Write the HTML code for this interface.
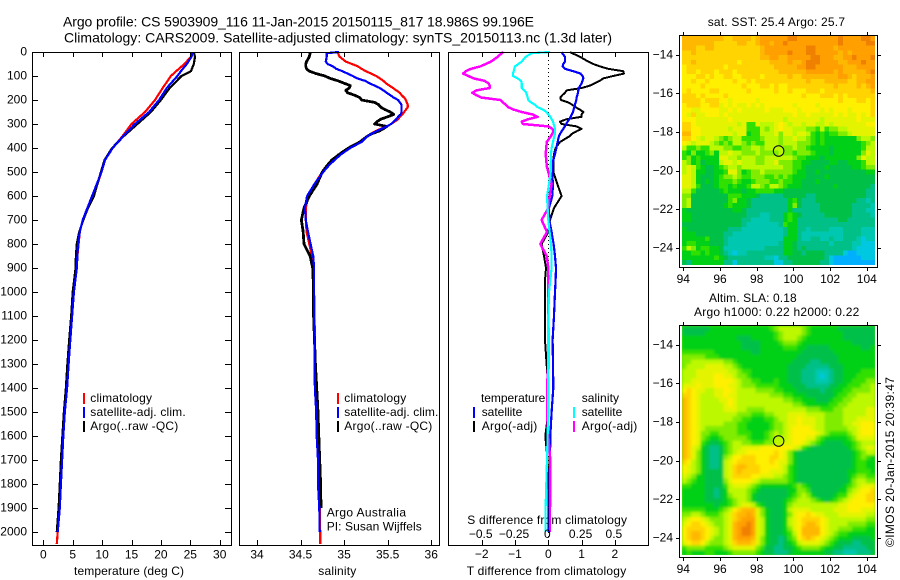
<!DOCTYPE html>
<html>
<head>
<meta charset="utf-8">
<title>Argo profile chart</title>
<style>
html,body{margin:0;padding:0;background:#fff;}
svg{display:block;}
text{font-family:"Liberation Sans",sans-serif;font-size:12px;fill:#000;}
.title{font-size:14px;}
</style>
</head>
<body>
<svg id="chart" xmlns="http://www.w3.org/2000/svg" width="900" height="580" viewBox="0 0 900 580">
<defs>
<filter id="sla-smooth" x="-5%" y="-5%" width="110%" height="110%"><feGaussianBlur stdDeviation="1.4"/></filter>
<clipPath id="sla-clip"><rect x="682" y="326" width="193" height="229"/></clipPath>
</defs>
<text class="title" x="63" y="26.5" textLength="471" lengthAdjust="spacing">Argo profile: CS 5903909_116 11-Jan-2015 20150115_817 18.986S 99.196E</text>
<text class="title" x="64" y="42.5" textLength="548" lengthAdjust="spacing">Climatology: CARS2009. Satellite-adjusted climatology: synTS_20150113.nc (1.3d later)</text>
<text x="74" y="575" textLength="110" lengthAdjust="spacing">temperature (deg C)</text>
<text x="318.3" y="575" textLength="38" lengthAdjust="spacing">salinity</text>
<text x="466.7" y="575" textLength="159.5" lengthAdjust="spacing">T difference from climatology</text>
<text x="467.3" y="524" textLength="159.7" lengthAdjust="spacing">S difference from climatology</text>
<rect x="83" y="393" width="2" height="11" fill="#ff0000"/>
<rect x="83" y="407" width="2" height="11" fill="#0000ff"/>
<rect x="83" y="421" width="2" height="11" fill="#000"/>
<text x="90.3" y="402" textLength="61.7" lengthAdjust="spacing">climatology</text>
<text x="90.3" y="416" textLength="95.4" lengthAdjust="spacing">satellite-adj. clim.</text>
<text x="90.3" y="430" textLength="88" lengthAdjust="spacing">Argo(..raw -QC)</text>
<rect x="337" y="393" width="2" height="11" fill="#ff0000"/>
<rect x="337" y="407" width="2" height="11" fill="#0000ff"/>
<rect x="337" y="421" width="2" height="11" fill="#000"/>
<text x="344.3" y="402" textLength="62" lengthAdjust="spacing">climatology</text>
<text x="344.3" y="416" textLength="94" lengthAdjust="spacing">satellite-adj. clim.</text>
<text x="344.3" y="430" textLength="88" lengthAdjust="spacing">Argo(..raw -QC)</text>
<text x="326.7" y="516.7" textLength="79.3" lengthAdjust="spacing">Argo Australia</text>
<text x="326.7" y="530.7" textLength="95" lengthAdjust="spacing">PI: Susan Wijffels</text>
<text x="481" y="402" textLength="64.3" lengthAdjust="spacing">temperature</text>
<text x="581.7" y="402" textLength="37.3" lengthAdjust="spacing">salinity</text>
<rect x="473" y="407" width="2" height="11" fill="#0000ff"/>
<rect x="473" y="421" width="2" height="11" fill="#000"/>
<rect x="573" y="407" width="2" height="11" fill="#00ffff"/>
<rect x="573" y="421" width="2" height="11" fill="#ff00ff"/>
<text x="481.7" y="416" textLength="40.6" lengthAdjust="spacing">satellite</text>
<text x="481.7" y="430" textLength="55.6" lengthAdjust="spacing">Argo(-adj)</text>
<text x="581.7" y="416" textLength="40.6" lengthAdjust="spacing">satellite</text>
<text x="581.7" y="430" textLength="55.6" lengthAdjust="spacing">Argo(-adj)</text>
<text x="707.7" y="26" textLength="137.3" lengthAdjust="spacing">sat. SST: 25.4 Argo: 25.7</text>
<text x="709" y="302" textLength="87.7" lengthAdjust="spacing">Altim. SLA: 0.18</text>
<text x="694" y="316" textLength="165.3" lengthAdjust="spacing">Argo h1000: 0.22 h2000: 0.22</text>
<text transform="translate(894,547) rotate(-90)" textLength="170" lengthAdjust="spacing">©IMOS 20-Jan-2015 20:39:47</text>
</svg>
<script>
// ---- profile data ----
const depthT = [0,20,50,80,100,150,200,250,300,350,400,450,500,550,600,650,700,750,800,850,900,1000,1100,1200,1300,1400,1500,1600,1700,1800,1900,2000,2050];
const tempClim = [25.1,25.1,24.0,22.6,21.7,20.3,19.0,17.3,15.0,13.5,11.8,10.5,9.9,9.2,8.3,7.5,6.7,6.2,6.0,5.8,5.7,5.2,4.9,4.5,4.2,4.0,3.6,3.35,3.1,2.9,2.7,2.45,2.3];
const tempArgo = [25.6,25.8,25.6,25.1,23.5,21.5,20.0,18.3,16.0,13.7,11.7,10.4,9.8,9.2,8.6,7.6,6.8,6.1,5.7,5.55,5.5,5.0,4.75,4.4,4.1,3.85,3.5,3.25,3.0,2.8,2.6,2.3,null];
const tempSat = [25.4,25.2,24.4,23.4,22.8,21.0,19.7,18.0,15.6,13.6,11.8,10.5,9.9,9.1,8.3,7.5,6.7,6.2,5.9,5.8,5.7,5.2,4.9,4.6,4.3,4.05,3.65,3.4,3.2,3.0,2.8,2.45,null];
const depthS = [0,5,20,40,50,60,70,
80,90,100,110,120,130,140,150,
160,170,180,190,200,210,220,230,240,250,
260,270,280,290,300,310,320,330,340,350,
375,400,425,450,475,500,550,
600,650,700,750,800,850,900,950,1000,
1100,1200,1300,1400,1500,1600,1700,1800,1900,2000,2050];
const salClim = [34.91,34.93,34.95,35.02,35.09,35.16,35.20,
35.25,35.31,35.37,35.41,35.45,35.48,35.52,35.56,
35.60,35.64,35.66,35.69,35.71,35.72,35.73,35.73,35.71,35.69,
35.67,35.64,35.62,35.58,35.54,35.49,35.42,35.36,35.31,35.27,
35.18,35.07,34.97,34.87,34.80,34.75,34.66,
34.59,34.56,34.56,34.57,34.60,34.63,34.645,34.65,34.655,
34.66,34.665,34.67,34.67,34.685,34.70,34.715,34.72,34.72,34.726,34.726];
const salArgo = [34.61,34.61,34.60,34.57,34.56,34.56,34.57,
34.60,34.68,34.78,34.84,34.93,35.00,35.07,35.06,
35.02,35.04,35.12,35.18,35.20,35.35,35.40,35.42,35.47,35.53,
35.57,35.50,35.42,35.38,35.35,35.49,35.45,35.40,35.32,35.27,
35.18,35.05,34.95,34.86,34.80,34.75,34.69,
34.60,34.54,34.51,34.53,34.54,34.61,34.64,34.645,34.645,
34.65,34.66,34.67,34.685,34.70,34.71,34.72,34.73,34.735,null,null];
const salSat = [34.94,34.80,34.80,34.79,34.81,34.87,34.91,
34.98,35.04,35.10,35.15,35.24,35.29,35.35,35.41,
35.45,35.49,35.53,35.57,35.62,35.64,35.66,35.66,35.66,35.66,
35.65,35.62,35.60,35.57,35.54,35.49,35.43,35.37,35.32,35.27,
35.20,35.07,34.97,34.89,34.82,34.76,34.66,
34.575,34.55,34.56,34.585,34.615,34.645,34.655,34.655,34.655,
34.655,34.66,34.66,34.665,34.68,34.685,34.70,34.70,34.715,34.72,null];
const tDiffArgo = [0.65,0.72,0.95,1.2,1.35,1.55,1.8,
2.25,2.27,1.95,1.65,1.55,1.4,1.25,1.0,
0.55,0.5,0.42,0.36,0.38,0.6,0.72,0.82,0.95,1.05,
1.0,1.0,0.55,0.35,0.4,0.85,1.0,0.85,0.72,0.65,
0.35,0.22,0.17,0.15,0.15,0.15,0.27,
0.40,0.17,0.05,0,-0.2,-0.13,-0.07,-0.1,-0.1,
-0.1,-0.1,-0.05,0,0,-0.09,-0.02,0,0,0,null];
const tDiffSat = [0.40,0.42,0.50,0.50,0.45,0.43,0.50,
0.75,0.97,1.03,1.05,1.03,1.0,0.96,0.92,
0.90,0.89,0.87,0.85,0.84,0.82,0.80,0.78,0.76,0.74,
0.71,0.67,0.63,0.58,0.54,0.50,0.45,0.40,0.36,0.32,
0.28,0.24,0.2,0.15,0.13,0.11,0.14,
0.12,0.02,0.03,0.1,0.16,0.2,0.23,0.22,0.2,
0.17,0.13,0.14,0.15,0.1,0.06,0.05,0.04,0.04,0.03,null];
const sDiffArgo = [-0.34,-0.35,-0.38,-0.43,-0.47,-0.51,-0.58,
-0.62,-0.64,-0.60,-0.56,-0.48,-0.45,-0.44,-0.44,
-0.54,-0.57,-0.54,-0.50,-0.36,-0.34,-0.32,-0.30,-0.26,-0.20,
-0.12,-0.08,-0.15,-0.20,-0.19,0.0,0.03,0.04,0.03,0.02,
-0.012,-0.015,-0.02,-0.015,-0.012,0.0,0.025,
0.01,0.0,-0.05,-0.01,-0.06,-0.012,0.0,0.0,0.0,
0.0,0.0,0.0,-0.01,-0.01,0.0,0.015,0.015,0.013,0.013,null];
const sDiffSat = [0.013,-0.125,-0.17,-0.20,-0.225,-0.25,-0.255,
-0.26,-0.265,-0.265,-0.23,-0.205,-0.20,-0.20,-0.20,
-0.18,-0.165,-0.16,-0.155,-0.15,-0.13,-0.10,-0.08,-0.04,-0.015,
0.0,0.015,0.025,0.035,0.04,0.045,0.05,0.05,0.05,0.045,
0.035,0.025,0.02,0.02,0.018,0.018,0.005,
-0.01,-0.005,0.0,0.01,0.02,0.025,0.025,0.015,0.005,
0.0,-0.002,-0.002,0.0,0.0,-0.005,-0.01,-0.015,-0.02,-0.02,null];
// ---- tick data ----
const depthTicks = [0,100,200,300,400,500,600,700,800,900,1000,1100,1200,1300,1400,1500,1600,1700,1800,1900,2000];
const tempTicks = [0,5,10,15,20,25,30];
const salTicks = [34,34.5,35,35.5,36];
const tDiffTicks = [-2,-1,0,1,2];
const tDiffLabels = ["−2","−1","0","1","2"];
const sDiffTicks = [-0.5,-0.25,0,0.25,0.5];
const sDiffLabels = ["−0.5","−0.25","0","0.25","0.5"];
const lonTicks = [94,96,98,100,102,104];
const latTicks = [-14,-16,-18,-20,-22,-24];
const latLabels = ["−14","−16","−18","−20","−22","−24"];
const floatLon = 99.196;
const floatLat = -18.986;
// ---- map data: colour level per 0.25° cell (north to south), hex digit 0..e; 6 groups of 7 ----
const sstRows = [
"ccccccc ccbbccc cbcdddd ddeeddd dddddde ddddeed",
"ccccccc bbbbbcc bbcddcd deddddd dddddde dddddee",
"cccbbcc bbbbbbb bbbcddd dddddde eddddcd ddddddd",
"bbcbbbb bbbbbbb bbbcddd ddeddde edddddc dcddddd",
"bbbbbbb bbbbbbb bbbccdd ccddddd eedddcc ddeddde",
"bbcbbbb bbbbbab bbbbbcc ccdccde eeddddc cdddedd",
"abbbbbb bbabbbb bbbbbbc ccccdde edddddd cccdddd",
"abbabbb abbbabb bbbbbbb ccccccd dddddcd cccccde",
"aaabbab aabbaab bbbabbb bbcbbcc ccccccd dcbcccd",
"aabaaba aaaabaa babbbbb bbbbbbc bbbcccc cbbccdd",
"aaaabaa aaaaaab aaabbab aabbbbb bbbbbcb bbbcbcd",
"abaaaab baaaaaa baaaaab aabaaab bbabbbb bbbbbbc",
"bbbabaa aabaaaa aaaaaaa aaaaaba aabbbab abbbbbb",
"bbbbabb baa9aaa aa9aaaa aaaaaaa aaaaaab aaabbab",
"abbbaab b9a9a99 a9a9aaa aaa9aaa a9aaaaa aaaaaab",
"aa99aaa a99a9a9 9999a99 9aaa9aa aa9a9aa a9aaaab",
"a9b99aa a9a9999 9999999 999a99a 99999a9 a99a9ab",
"aaa9999 999a999 9999999 9899999 9989999 999a999",
"bba9999 9999989 6698889 a989989 9889899 99999aa",
"bbaa999 9998999 6668789 a998887 7686778 8999999",
"ccaa999 9999899 5668889 7998998 6565667 7899999",
"bba9899 8767886 6667888 7889887 6565555 5557887",
"a989998 7676887 6766888 7888777 6565555 5555678",
"8667668 8877667 7887888 8778776 5555455 5555688",
"6575567 5889887 7787777 8776777 6555455 5555798",
"6756555 5998878 8877888 8887665 5545555 5557988",
"8756455 5899898 8877889 7776655 4444554 4555688",
"8986544 5678878 8888888 8776654 4445444 4455677",
"8985544 5569975 6778777 7776554 4544444 4444455",
"9985444 5677876 6777667 6765554 4445444 4444444",
"9985454 5666765 5677766 7665544 4544444 4444444",
"9986444 5665655 6887688 7655544 4444454 4444443",
"8864444 4565554 5566665 5444444 4444444 4444433",
"7744444 4446665 5543333 3444443 3444444 4444433",
"7844444 4446755 4333333 3356433 3444444 4443323",
"7844444 4456555 4333333 3357433 3344444 4433332",
"5444444 4444554 3333333 3353333 3344444 4433322",
"5544444 4444444 3332233 3565433 3334444 4433332",
"5544444 4444443 3222233 3565333 3333334 4333333",
"4444444 4444443 2222222 3655333 3333333 3333333",
"5444444 4443332 2222222 2355332 3333222 3333222",
"5554444 4433222 2222222 2355322 2222222 3333222",
"5555564 4432222 2222222 2555322 3322322 3332122",
"5665554 4432222 2222222 3554333 3333233 3322111",
"6875665 5422222 2222333 3554343 3333333 3321111",
"5566565 5432122 3333333 3554434 4443333 1001111",
"5555555 6543333 3333221 3344444 4443100 0000111",
"4355555 5533133 3333331 1334444 4433100 0000000"
];
const slaRows = [
"4444445 5555555 5555567 8888876 5555554 4444444",
"4444455 5555555 5555556 7888876 5555555 4444444",
"5555555 5555544 4555556 7888765 5555555 4444444",
"5555555 5555554 4445555 6777655 5555555 5544444",
"5555555 5555554 4445555 5666554 4444555 5555445",
"6666666 5555555 5445555 5555544 4444455 5555555",
"7777766 6555555 5555555 5555444 4444445 5555555",
"7788888 8877655 5555555 5554444 3344445 5555555",
"7888899 9988765 5555555 5544443 3333444 5555555",
"8889999 9998876 6555555 5544433 3222344 5555666",
"8889999 aa99877 6555555 5544433 3212344 5556666",
"8899999 aaaa987 7665556 5544433 3222344 5566677",
"999a999 aaa9987 7766666 5554443 3333445 5666778",
"aba9988 99aa988 8877776 6555444 4434455 6677778",
"bba9888 99a9988 8888877 7665554 4444456 6778888",
"cba9888 899a988 8888888 8776655 5444566 7788888",
"cba9888 889a988 8888888 8887765 5555667 7888888",
"cba9888 8899988 7777888 8888887 7766677 8888899",
"cba9888 8888877 7666778 8899998 8887777 8888899",
"cba9888 8888776 6555667 8899a99 9887777 8889999",
"cba9888 8877766 5555567 7899a99 9887777 8899aaa",
"cba9877 7777766 5555567 789aaaa 9887777 7889aaa",
"cba9776 6777766 6555678 789aaaa a987666 6789aaa",
"cba9765 5677777 6555678 889aaa9 9765555 5679999",
"cba9654 4567887 7666778 899aa98 7654444 5567888",
"cb98543 3467889 999aaaa aaa9865 4444444 4567899",
"cb97543 3467899 aaaaaab a975444 4444444 4456788",
"cb97543 3478aab bbaaabb a975444 4444444 4456765",
"ba87543 3489abb bbaaaba 9975444 4444444 4456655",
"a987543 3489bcc bbbaaaa 9865444 4444444 4456655",
"a987544 4489bcb bbbaa99 9865444 4444444 4556665",
"9875544 4489bbb baa9998 8765444 4444444 4567766",
"8765544 4479aaa a987777 7765444 4444444 4578877",
"6655544 4468999 8765555 5556765 4444444 5678999",
"5555544 3458888 7654444 4455776 4444445 5789aab",
"5555544 3457888 7544444 4456787 5444456 689aabb",
"5555544 4456788 7544444 4567888 7654567 89aaabb",
"5555555 4556789 9865444 4578888 8888889 9aaaaaa",
"6666655 5678abc cc97544 4589999 8888899 9aaa999",
"7788766 6789bcc dc97544 4579aab a998889 9999988",
"89aa987 7789bcd dd98544 4589abb bba9888 8888877",
"9abba98 7789cdd ed98544 4589abc cba9888 8777766",
"abbbba9 8789cde ed98544 4579acc cca9887 7766655",
"abccba9 8789cde ed98544 4568acc cca9876 6555555",
"abccba8 7789cdd dc97544 3467abc ba98765 5544445",
"9abba87 7789bcc cb97544 3456899 9987654 4433444",
"6777766 6678999 9976443 3445677 7765544 3333344",
"5655566 5556777 7765443 3345555 5554433 2223334"
];
const levelColors = ["#00b0ff","#00c8e0","#00c8b0","#00c088","#00c048","#00d018","#30e000","#80ec00","#bcf800","#e4f400","#fff000","#ffd400","#ffb800","#ffa000","#f08000"];

// ---- axis functions ----
const yDepth = d => 52 + 0.24 * d;
const xTemp = v => 43.3 + 5.88 * v;
const xSal = v => 257 + 87.1 * (v - 34);
const xTDiff = v => 548.3 + 33.3 * v;
const xSDiff = v => 548.3 + 133.2 * v;
const xLon = v => 683.3 + 18.35 * (v - 94);
const yLat = (v, top) => top + 54.8 + 19.3 * (-14 - v);

const svg = document.getElementById('chart');
const NS = 'http://www.w3.org/2000/svg';
function make(tag, parent) {
  const el = document.createElementNS(NS, tag);
  (parent || svg).appendChild(el);
  return el;
}
function drawLine(x1, y1, x2, y2, name) {
  const el = make('line');
  el.setAttribute('x1', x1);
  el.setAttribute('y1', y1);
  el.setAttribute('x2', x2);
  el.setAttribute('y2', y2);
  el.setAttribute('stroke', '#000');
  el.setAttribute('stroke-width', 1);
  el.setAttribute('shape-rendering', 'crispEdges');
  
  
  return el;
}
function drawLabel(x, y, str, anchor, name) {
  const el = make('text');
  el.setAttribute('x', x);
  el.setAttribute('y', y);
  el.setAttribute('text-anchor', anchor);
  el.textContent = str;
  
  
  return el;
}
function drawFrame(x, y, w, h, name) {
  const el = make('rect');
  el.setAttribute('x', x);
  el.setAttribute('y', y);
  el.setAttribute('width', w);
  el.setAttribute('height', h);
  el.setAttribute('fill', 'none');
  el.setAttribute('stroke', '#000');
  el.setAttribute('stroke-width', 1);
  el.setAttribute('shape-rendering', 'crispEdges');
  
  
  return el;
}
function drawSeries(depths, values, xFn, color, weight, name) {
  const pts = [];
  depths.forEach((d, i) => {
    if (values[i] !== null) pts.push(xFn(values[i]).toFixed(1) + ',' + yDepth(d).toFixed(1));
  });
  const el = make('polyline');
  el.setAttribute('points', pts.join(' '));
  el.setAttribute('fill', 'none');
  el.setAttribute('stroke', color);
  el.setAttribute('stroke-width', weight);
  el.setAttribute('stroke-linejoin', 'round');
  el.setAttribute('shape-rendering', 'crispEdges');
  
  
  return el;
}

// ---- panel 1: temperature ----
drawSeries(depthT, tempClim, xTemp, '#ff0000', 2.2, 'temperature-climatology-line');
drawSeries(depthT, tempArgo, xTemp, '#000000', 2.2, 'temperature-argo-line');
drawSeries(depthT, tempSat, xTemp, '#0000ff', 2.2, 'temperature-satellite-line');
// ---- panel 2: salinity ----
drawSeries(depthS, salClim, xSal, '#ff0000', 2.2, 'salinity-climatology-line');
drawSeries(depthS, salArgo, xSal, '#000000', 2.8, 'salinity-argo-line');
drawSeries(depthS, salSat, xSal, '#0000ff', 2.2, 'salinity-satellite-line');
// ---- panel 3: differences ----
const zeroLine = drawLine(xTDiff(0), 52, xTDiff(0), 545, 'zero-difference-line');
zeroLine.setAttribute('stroke-dasharray', '1 3');
drawSeries(depthS, tDiffArgo, xTDiff, '#000000', 2, 't-difference-argo-line');
drawSeries(depthS, tDiffSat, xTDiff, '#0000ff', 2.2, 't-difference-satellite-line');
drawSeries(depthS, sDiffArgo, xSDiff, '#ff00ff', 2.5, 's-difference-argo-line');
drawSeries(depthS, sDiffSat, xSDiff, '#00ffff', 2.2, 's-difference-satellite-line');

drawFrame(32.5, 52.5, 199, 493, 'temperature-panel-frame');
drawFrame(239.5, 52.5, 200, 493, 'salinity-panel-frame');
drawFrame(448.5, 52.5, 200, 493, 'difference-panel-frame');

depthTicks.forEach(d => {
  const y = Math.round(yDepth(d)) + 0.5;
  drawLine(32, y, 38, y, 'depth-tick-left');
  drawLine(225, y, 231, y, 'depth-tick-right');
  drawLabel(27, yDepth(d) + 3.7, String(d), 'end', 'depth-tick-label');
});
tempTicks.forEach(v => {
  const x = Math.round(xTemp(v)) + 0.5;
  drawLine(x, 52, x, 57, 'temperature-tick-top');
  drawLine(x, 540, x, 545, 'temperature-tick-bottom');
  drawLabel(xTemp(v), 558.7, String(v), 'middle', 'temperature-tick-label');
});
salTicks.forEach(v => {
  const x = Math.round(xSal(v)) + 0.5;
  drawLine(x, 52, x, 57, 'salinity-tick-top');
  drawLine(x, 540, x, 545, 'salinity-tick-bottom');
  drawLabel(xSal(v), 558.7, String(v), 'middle', 'salinity-tick-label');
});
tDiffTicks.forEach((v, i) => {
  const x = Math.round(xTDiff(v)) + 0.5;
  drawLine(x, 540, x, 545, 't-difference-tick');
  drawLabel(xTDiff(v), 558, tDiffLabels[i], 'middle', 't-difference-tick-label');
});
sDiffTicks.forEach((v, i) => {
  const x = Math.round(xSDiff(v)) + 0.5;
  drawLine(x, 52, x, 57, 's-difference-tick');
  drawLabel(xSDiff(v) - 1, 538, sDiffLabels[i], 'middle', 's-difference-tick-label');
});

// ---- maps ----
function drawMap(rows, top, prefix, smooth) {
  const left = 682, width = 193, height = 229, imgTop = top + 36;
  const cw = width / 42, ch = height / 48;
  const wrapper = make('g');
  
  
  if (smooth) {
    wrapper.setAttribute('clip-path', 'url(#sla-clip)');
    const under = make('rect', wrapper);
    under.setAttribute('x', left);
    under.setAttribute('y', imgTop);
    under.setAttribute('width', width);
    under.setAttribute('height', height);
    under.setAttribute('fill', '#50e000');
    
    
  }
  const group = make('g', wrapper);
  group.setAttribute('shape-rendering', 'crispEdges');
  if (smooth) group.setAttribute('filter', 'url(#sla-smooth)');
  
  
  rows.forEach((rowText, r) => {
    const row = rowText.replace(/[^0-9a-e]/g, '');
    for (let c = 0; c < 42; c++) {
      const level = parseInt(row[Math.min(c, row.length - 1)], 16);
      const cell = make('rect', group);
      cell.setAttribute('x', (left + c * cw).toFixed(2));
      cell.setAttribute('y', (imgTop + r * ch).toFixed(2));
      cell.setAttribute('width', (cw + 0.5).toFixed(2));
      cell.setAttribute('height', (ch + 0.5).toFixed(2));
      cell.setAttribute('fill', levelColors[level]);
      
      
    }
  });
  const mask = make('rect');
  mask.setAttribute('x', 875);
  mask.setAttribute('y', top + 35);
  mask.setAttribute('width', 2);
  mask.setAttribute('height', 232);
  mask.setAttribute('fill', '#fff');
  
  
  const maskB = make('rect');
  maskB.setAttribute('x', 680);
  maskB.setAttribute('y', top + 265);
  maskB.setAttribute('width', 197);
  maskB.setAttribute('height', 2);
  maskB.setAttribute('fill', '#fff');
  
  
  drawFrame(679.5, top + 35.5, 198, 232, prefix + '-frame');
  lonTicks.forEach(v => {
    const x = Math.round(xLon(v)) + 0.5;
    drawLine(x, top + 32, x, top + 35, prefix + '-lon-tick-top');
    drawLine(x, top + 268, x, top + 271, prefix + '-lon-tick-bottom');
    drawLabel(xLon(v), top + 283, String(v), 'middle', prefix + '-lon-label');
  });
  latTicks.forEach((v, i) => {
    const y = Math.round(yLat(v, top)) + 0.5;
    drawLine(676, y, 679, y, prefix + '-lat-tick-left');
    drawLine(878, y, 881, y, prefix + '-lat-tick-right');
    drawLabel(673, yLat(v, top) + 3.7, latLabels[i], 'end', prefix + '-lat-label');
  });
  const marker = make('circle');
  marker.setAttribute('cx', xLon(floatLon).toFixed(1));
  marker.setAttribute('cy', yLat(floatLat, top).toFixed(1));
  marker.setAttribute('r', 5.3);
  marker.setAttribute('fill', 'none');
  marker.setAttribute('stroke', '#000');
  marker.setAttribute('stroke-width', 1);
  
  
}
drawMap(sstRows, 0, 'sst-map', false);
drawMap(slaRows, 290, 'sla-map', true);
</script>
</body>
</html>
